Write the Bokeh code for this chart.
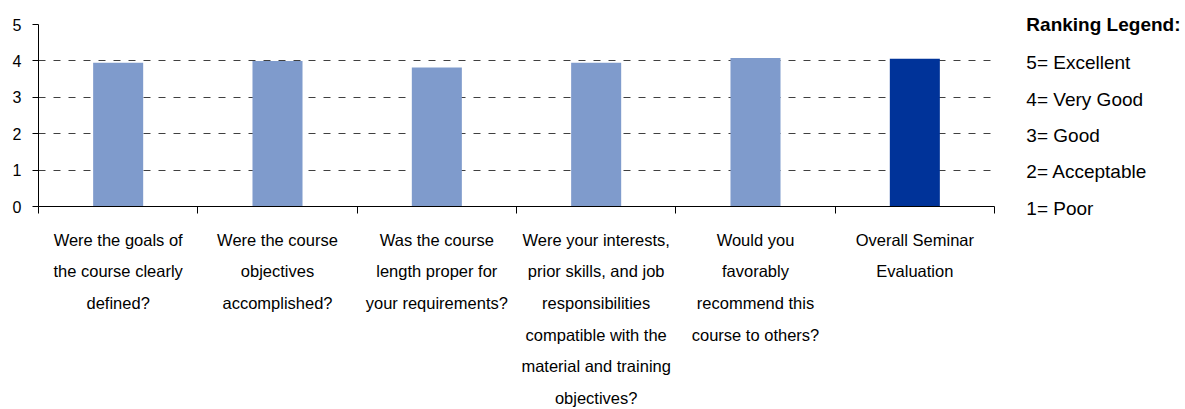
from bokeh.plotting import figure
from bokeh.layouts import row
from bokeh.models import Range1d, FixedTicker, ColumnDataSource
from bokeh.core.properties import value
from bokeh.embed import file_html
from bokeh.resources import INLINE

# ---- data ----
categories = [
    "Were the goals of\nthe course clearly\ndefined?",
    "Were the course\nobjectives\naccomplished?",
    "Was the course\nlength proper for\nyour requirements?",
    "Were your interests,\nprior skills, and job\nresponsibilities\ncompatible with the\nmaterial and training\nobjectives?",
    "Would you\nfavorably\nrecommend this\ncourse to others?",
    "Overall Seminar\nEvaluation",
]
values = [3.95, 4.0, 3.82, 3.95, 4.08, 4.06]
bar_colors = ["#7F9BCC", "#7F9BCC", "#7F9BCC", "#7F9BCC", "#7F9BCC", "#003399"]
y_ticks = [0, 1, 2, 3, 4, 5]
legend_title = "Ranking Legend:"
legend_items = ["5= Excellent", "4= Very Good", "3= Good", "2= Acceptable", "1= Poor"]
legend_ranks = [5, 4, 3, 2, 1]

FONT = "Liberation Sans Narrow, Arial Narrow, Liberation Sans, Arial, sans-serif"

# ---- layout constants (pixels) ----
W1, W2, H = 1010, 175, 409
F_LEFT, F_TOP, F_RIGHT, F_BOTTOM = 38, 24, 994, 206
n = len(categories)
px_per_x = (F_RIGHT - F_LEFT) / n
px_per_y = (F_BOTTOM - F_TOP) / 5.0

centers = [i + 0.5 for i in range(n)]
source = ColumnDataSource(dict(x=centers, top=values, color=bar_colors))

p = figure(width=W1, height=H, output_backend="svg", toolbar_location=None,
           x_range=Range1d(0, n), y_range=Range1d(0, 5),
           min_border_left=F_LEFT, min_border_right=W1 - F_RIGHT,
           min_border_top=F_TOP, min_border_bottom=H - F_BOTTOM)
p.outline_line_color = None

p.vbar(x="x", top="top", width=0.314, bottom=0, color="color", line_color=None, source=source)

# y axis
ya = p.yaxis[0]
ya.ticker = FixedTicker(ticks=y_ticks)
ya.axis_line_color = "black"
ya.major_tick_out = 6
ya.major_tick_in = 0
ya.minor_tick_line_color = None
ya.major_label_standoff = 11
ya.major_label_text_font = FONT
ya.major_label_text_font_size = "16px"
ya.major_label_text_color = "black"

# x axis
xa = p.xaxis[0]
xa.ticker = FixedTicker(ticks=centers, minor_ticks=list(range(n + 1)))
xa.major_label_overrides = {c: lab for c, lab in zip(centers, categories)}
xa.major_tick_line_color = None
xa.major_tick_out = 0
xa.major_tick_in = 0
xa.minor_tick_out = 7
xa.minor_tick_in = 0
xa.minor_tick_line_color = "black"
xa.axis_line_color = "black"
xa.major_label_standoff = 17
xa.major_label_text_font = FONT
xa.major_label_text_font_size = "16.5px"
xa.major_label_text_line_height = 1.76
xa.major_label_text_color = "black"

p.xgrid.grid_line_color = None
p.ygrid.ticker = FixedTicker(ticks=y_ticks)
p.ygrid.grid_line_color = "#404040"
p.ygrid.grid_line_dash = "7 8"
p.ygrid.grid_line_width = 1

# ---- legend panel (same value scales as the chart) ----
x0 = n + (W1 - F_RIGHT) / px_per_x
x1 = n + (W1 + W2 - F_RIGHT) / px_per_x
y_top = 5 + F_TOP / px_per_y
y_bot = -(H - F_BOTTOM) / px_per_y
p2 = figure(width=W2, height=H, output_backend="svg", toolbar_location=None,
            x_range=Range1d(x0, x1), y_range=Range1d(y_bot, y_top),
            min_border=0, min_border_left=0, min_border_right=0,
            min_border_top=0, min_border_bottom=0)
p2.axis.visible = False
p2.grid.visible = False
p2.outline_line_color = None
for fig in (p, p2):
    if "frame_align" in fig.properties():
        fig.frame_align = False

lx = n + 0.2
p2.text(x=[lx], y=[5.0], text=[legend_title], text_font=value(FONT),
        text_font_size="19px", text_font_style="bold", text_baseline="middle",
        text_color="black")
p2.text(x=[lx] * len(legend_items), y=[r - 1.05 for r in legend_ranks], text=legend_items,
        text_font=value(FONT), text_font_size="19px", text_baseline="middle",
        text_color="black")

layout = row(p, p2, spacing=0)
open("out.html", "w").write(file_html(layout, INLINE))
